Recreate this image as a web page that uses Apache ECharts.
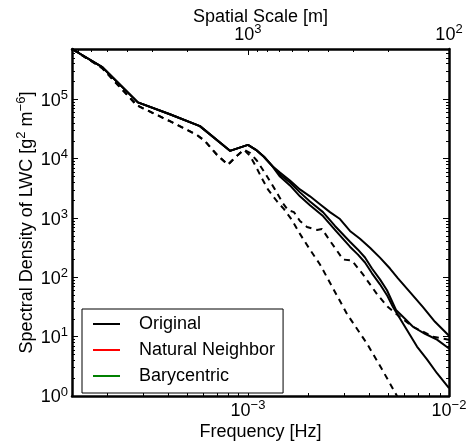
<!DOCTYPE html>
<html><head><meta charset="utf-8">
<script src="https://cdn.jsdelivr.net/npm/echarts@6/dist/echarts.min.js"></script>
<style>html,body{margin:0;padding:0;background:#fff}#c{width:470px;height:447px}</style>
</head><body><div id="c"></div>
<script>
const FF = '"Liberation Sans", Arial, Helvetica, sans-serif';
const SCALE_MAX = 7500;           // spatial scale at left edge [m]
const F_MIN = 1 / SCALE_MAX, F_MAX = 1e-2;
const Y_MIN = 1, Y_MAX = 7.08e5;
const legendNames = ['Original', 'Natural Neighbor', 'Barycentric'];
const legendColors = ['#000000', '#ff0000', '#008000'];
const xTitle = 'Frequency [Hz]';
const topTitle = 'Spatial Scale [m]';

// [frequency Hz, spectral density]
const solidHead = [[1.334e-4,7.08e5],[1.877e-4,3.548e5],[2.836e-4,8.913e4],[4.09e-4,5.623e4],[5.77e-4,3.548e4],[8.14e-4,1.359e4],[1.0e-3,1.711e4],[1.096e-3,1.413e4],[1.201e-3,1.080e4],[1.316e-3,7642]];
const solidUpperTail = [[1.443e-3,5843],[1.618e-3,4299],[1.814e-3,3043],[2.035e-3,2326],[2.282e-3,1711],[2.558e-3,1259],[2.869e-3,962],[3.217e-3,607],[3.608e-3,447],[4.046e-3,316],[4.536e-3,215],[5.087e-3,141],[5.576e-3,96.2],[6.397e-3,56.2],[7.424e-3,31.6],[8.518e-3,17.8],[1.0e-2,10.4]];
const solidMidTail = [[1.443e-3,5412],[1.618e-3,3981],[1.814e-3,2710],[2.035e-3,1905],[2.362e-3,1259],[2.709e-3,736],[3.217e-3,398],[3.526e-3,293],[3.821e-3,216],[4.140e-3,141],[4.536e-3,92.6],[4.915e-3,60.7],[5.449e-3,28.2],[6.041e-3,20.0],[6.620e-3,14.7],[7.596e-3,11.2],[8.716e-3,8.91],[1.0e-2,6.31]];
const solidLowTail = [[1.443e-3,5012],[1.618e-3,3548],[1.814e-3,2326],[2.035e-3,1647],[2.362e-3,1080],[2.709e-3,631],[3.217e-3,329],[3.526e-3,242],[3.821e-3,178],[4.140e-3,117],[4.536e-3,76.4],[4.915e-3,50.1],[5.265e-3,31.6],[6.041e-3,14.7],[6.931e-3,6.81],[7.772e-3,4.14],[8.716e-3,2.42],[1.0e-2,1.36]];
const dashHead = [[1.334e-4,7.08e5],[1.877e-4,3.415e5],[2.804e-4,7.943e4],[4.09e-4,4.299e4],[5.58e-4,2.512e4],[6.11e-4,1.995e4],[7.01e-4,1.166e4],[7.95e-4,7943],[8.72e-4,1.080e4],[9.55e-4,1.413e4]];
const dashSteepTail = [[1.023e-3,1.122e4],[1.096e-3,7356],[1.174e-3,4642],[1.257e-3,3043],[1.394e-3,1920],[1.511e-3,1413],[1.655e-3,926],[1.814e-3,541],[2.035e-3,293],[2.282e-3,165],[2.648e-3,65.6],[3.109e-3,24.2],[3.909e-3,7.64],[4.642e-3,2.82],[5.512e-3,1.0],[5.838e-3,0.736]];
const dashKinkTail = [[1.023e-3,1.259e4],[1.109e-3,9260],[1.229e-3,5412],[1.362e-3,3043],[1.493e-3,1778],[1.581e-3,1359],[1.694e-3,1259],[1.814e-3,891],[1.966e-3,708],[2.204e-3,631],[2.335e-3,656],[2.558e-3,414],[2.772e-3,282],[2.970e-3,200],[3.292e-3,192],[3.734e-3,112],[4.384e-3,52.1],[4.972e-3,31.6],[5.705e-3,21.5],[6.620e-3,14.7],[8.325e-3,10],[1.0e-2,8.91]];

function powLabel(v) {
  const l = Math.log10(v), e = Math.round(l);
  if (Math.abs(l - e) > 1e-6) return '';
  const es = e < 0 ? '\u2212' + (-e) : String(e);
  return '{b|10}{s|' + es + '}';
}
const rich = {
  b: {fontSize: 18, fontFamily: FF, color: '#000', lineHeight: 21, verticalAlign: 'bottom'},
  s: {fontSize: 13, fontFamily: FF, color: '#000', lineHeight: 13, verticalAlign: 'top'}
};
const frame = {show: true, onZero: false, lineStyle: {color: '#000', width: 2.5}};
const major = {show: true, inside: true, length: 6, lineStyle: {color: '#000', width: 1}};
const minor = {show: true, splitNumber: 9, length: 3, lineStyle: {color: '#000', width: 1}};

function lineSeries(name, data, dashed, color, width) {
  return {
    type: 'line', name: name, data: data, xAxisIndex: 0, yAxisIndex: 0,
    symbol: 'none', showSymbol: false, animation: false, silent: true, color: color || '#000',
    lineStyle: {color: color || '#000', width: width || 2, type: dashed ? [6, 5] : 'solid', join: 'round'}
  };
}

const chart = echarts.init(document.getElementById('c'), null, {renderer: 'canvas'});
chart.setOption({
  backgroundColor: '#fff',
  animation: false,
  grid: {left: 72, right: 21, top: 49, bottom: 47, containLabel: false},
  legend: {
    orient: 'vertical', left: 82, top: 309, padding: [5, 8, 7, 11],
    itemWidth: 27, itemHeight: 2, itemGap: 6,
    borderColor: '#000', borderWidth: 1, backgroundColor: '#fff', borderRadius: 0,
    selectedMode: false,
    textStyle: {fontSize: 18, fontFamily: FF, color: '#000', lineHeight: 20, padding: [0, 0, 0, 14]},
    data: legendNames.map(n => ({name: n, icon: 'rect'}))
  },
  xAxis: [
    {type: 'log', logBase: 10, min: F_MIN, max: F_MAX, position: 'bottom',
     axisLine: frame, axisTick: major, minorTick: minor, splitLine: {show: false}, minorSplitLine: {show: false},
     axisLabel: {formatter: powLabel, rich: rich, margin: 3, showMinLabel: true, showMaxLabel: true},
     name: xTitle, nameLocation: 'middle', nameGap: 26, nameMoveOverlap: false,
     nameTextStyle: {fontSize: 18, fontFamily: FF, color: '#000', lineHeight: 20}},
    {type: 'log', logBase: 10, min: 1 / F_MAX, max: SCALE_MAX, inverse: true, position: 'top',
     axisLine: frame, axisTick: major, minorTick: minor, splitLine: {show: false}, minorSplitLine: {show: false},
     axisLabel: {formatter: powLabel, rich: rich, margin: 5, showMinLabel: true, showMaxLabel: true},
     name: topTitle, nameLocation: 'middle', nameGap: 22, nameMoveOverlap: false,
     nameTextStyle: {fontSize: 18, fontFamily: FF, color: '#000', lineHeight: 20}}
  ],
  yAxis: [
    {type: 'log', logBase: 10, min: Y_MIN, max: Y_MAX, position: 'left',
     axisLine: frame, axisTick: major, minorTick: minor, splitLine: {show: false}, minorSplitLine: {show: false},
     axisLabel: {formatter: powLabel, rich: rich, margin: 4, showMinLabel: true, showMaxLabel: true},
     name: '{t|Spectral Density of LWC [g}{s|2}{t| m}{s|\u22126}{t|]}',
     nameLocation: 'middle', nameGap: 36, nameRotate: 90, nameMoveOverlap: false,
     nameTextStyle: {rich: {
       t: {fontSize: 18, fontFamily: FF, color: '#000', lineHeight: 21, verticalAlign: 'bottom'},
       s: {fontSize: 13, fontFamily: FF, color: '#000', lineHeight: 13, verticalAlign: 'top'}}}},
    {type: 'log', logBase: 10, min: Y_MIN, max: Y_MAX, position: 'right',
     axisLine: frame, axisTick: major, minorTick: minor, splitLine: {show: false}, minorSplitLine: {show: false},
     axisLabel: {show: false}}
  ],
  series: [
    lineSeries(legendNames[0], solidHead.concat(solidUpperTail), false, legendColors[0], 2),
    lineSeries('solid mid', solidHead.concat(solidMidTail), false),
    lineSeries('solid low', solidHead.concat(solidLowTail), false),
    lineSeries('dashed steep', dashHead.concat(dashSteepTail), true),
    lineSeries('dashed kink', dashHead.concat(dashKinkTail), true),
    lineSeries(legendNames[1], [], false, legendColors[1]),
    lineSeries(legendNames[2], [], false, legendColors[2])
  ]
});
</script></body></html>
